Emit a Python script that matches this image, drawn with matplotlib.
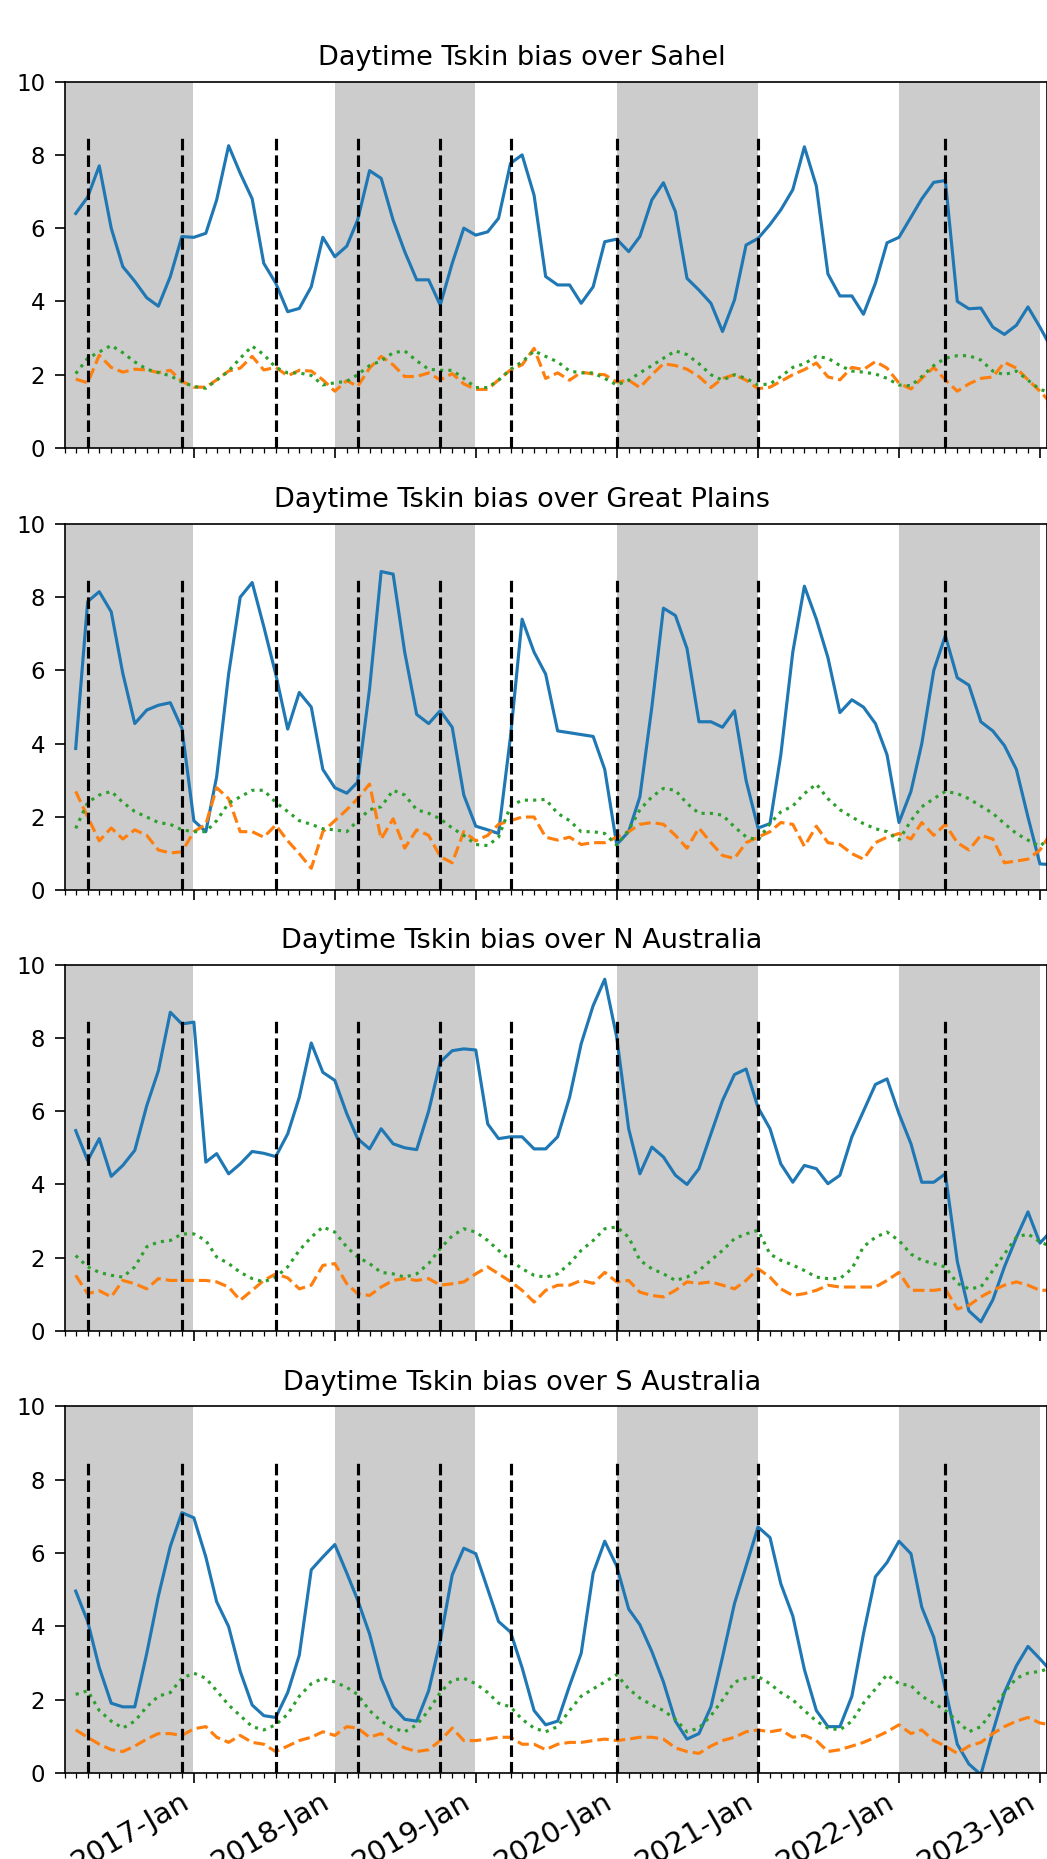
import datetime as dt
import numpy as np
import pandas as pd
import matplotlib
matplotlib.use("Agg")
import matplotlib.pyplot as plt
import matplotlib.dates as mdates

# ---------------- data ----------------
dates = pd.date_range("2016-03-01", periods=84, freq="MS")

regions = ["Sahel", "Great Plains", "N Australia", "S Australia"]

sahel_blue = [6.4, 6.85, 7.7, 6.0, 4.95, 4.55, 4.1, 3.87, 4.68, 5.77, 5.75, 5.86,
              6.77, 8.25, 7.5, 6.8, 5.04, 4.5, 3.72, 3.81, 4.4, 5.75, 5.22, 5.51,
              6.22, 7.57, 7.36, 6.22, 5.36, 4.59, 4.59, 3.9, 5.04, 6.0, 5.81, 5.9,
              6.27, 7.77, 8.0, 6.9, 4.68, 4.45, 4.45, 3.95, 4.4, 5.63, 5.7, 5.36,
              5.77, 6.77, 7.24, 6.45, 4.63, 4.31, 3.95, 3.18, 4.04, 5.54, 5.72, 6.1,
              6.5, 7.05, 8.22, 7.15, 4.75, 4.15, 4.15, 3.65, 4.5, 5.6, 5.75, 6.3,
              6.8, 7.25, 7.3, 4.0, 3.8, 3.82, 3.3, 3.1, 3.35, 3.85, 3.3, 2.7]
sahel_orange = [1.88, 1.78, 2.53, 2.2, 2.07, 2.15, 2.13, 2.06, 2.12, 1.82, 1.66, 1.66,
                1.86, 2.1, 2.18, 2.5, 2.13, 2.2, 1.97, 2.12, 2.1, 1.86, 1.55, 1.84,
                1.68, 2.18, 2.5, 2.27, 1.95, 1.95, 2.05, 1.86, 2.03, 1.75, 1.6, 1.6,
                1.86, 2.13, 2.27, 2.72, 1.9, 2.05, 1.85, 2.07, 2.02, 2.0, 1.8, 1.85,
                1.65, 2.0, 2.3, 2.25, 2.15, 1.95, 1.65, 1.9, 2.0, 1.85, 1.62, 1.66,
                1.82, 2.0, 2.14, 2.32, 1.94, 1.86, 2.2, 2.14, 2.36, 2.18, 1.77, 1.61,
                1.9, 2.2, 1.86, 1.55, 1.75, 1.9, 1.94, 2.34, 2.18, 1.86, 1.55, 1.2]
sahel_green = [2.03, 2.45, 2.62, 2.8, 2.6, 2.35, 2.15, 2.06, 1.97, 1.8, 1.68, 1.63,
               1.85, 2.1, 2.45, 2.78, 2.55, 2.2, 2.05, 2.05, 1.98, 1.72, 1.78, 1.82,
               2.0, 2.25, 2.38, 2.6, 2.65, 2.38, 2.15, 2.12, 2.12, 1.9, 1.65, 1.65,
               1.85, 2.15, 2.35, 2.65, 2.5, 2.35, 2.1, 2.05, 2.05, 1.9, 1.72, 1.85,
               2.05, 2.25, 2.45, 2.65, 2.55, 2.3, 2.0, 1.85, 2.0, 1.9, 1.72, 1.75,
               1.95, 2.2, 2.3, 2.5, 2.45, 2.25, 2.1, 2.07, 2.02, 1.9, 1.72, 1.7,
               1.95, 2.25, 2.45, 2.52, 2.52, 2.4, 2.1, 2.0, 2.1, 1.85, 1.6, 1.5]

plains_blue = [3.87, 7.88, 8.15, 7.6, 5.92, 4.55, 4.92, 5.05, 5.12, 4.42, 1.9, 1.6,
               3.1, 5.9, 8.0, 8.4, 7.2, 5.9, 4.4, 5.4, 5.0, 3.3, 2.8, 2.65,
               2.95, 5.5, 8.7, 8.63, 6.5, 4.8, 4.55, 4.9, 4.45, 2.6, 1.75, 1.65,
               1.55, 4.2, 7.4, 6.5, 5.9, 4.35, 4.3, 4.25, 4.2, 3.3, 1.25, 1.6,
               2.55, 5.0, 7.7, 7.5, 6.6, 4.6, 4.6, 4.45, 4.9, 3.0, 1.7, 1.82,
               3.7, 6.5, 8.3, 7.4, 6.35, 4.85, 5.2, 5.0, 4.55, 3.7, 1.85, 2.7,
               4.0, 6.0, 6.95, 5.8, 5.6, 4.6, 4.35, 3.95, 3.3, 2.0, 0.72, 0.7]
plains_orange = [2.7, 2.0, 1.35, 1.7, 1.4, 1.65, 1.5, 1.1, 1.02, 1.05, 1.6, 1.8,
                 2.8, 2.5, 1.6, 1.6, 1.45, 1.78, 1.35, 1.0, 0.6, 1.6, 1.9, 2.2,
                 2.5, 2.9, 1.4, 1.95, 1.15, 1.65, 1.5, 0.92, 0.75, 1.6, 1.35, 1.5,
                 1.8, 1.9, 2.0, 2.0, 1.45, 1.37, 1.45, 1.25, 1.3, 1.3, 1.45, 1.6,
                 1.8, 1.85, 1.8, 1.5, 1.15, 1.7, 1.3, 0.95, 0.87, 1.3, 1.45, 1.6,
                 1.85, 1.8, 1.2, 1.75, 1.3, 1.25, 1.0, 0.85, 1.3, 1.45, 1.55, 1.4,
                 1.85, 1.5, 1.8, 1.3, 1.1, 1.5, 1.4, 0.75, 0.8, 0.85, 1.1, 1.6]
plains_green = [1.69, 2.4, 2.6, 2.7, 2.4, 2.15, 2.0, 1.85, 1.8, 1.65, 1.6, 1.6,
                1.9, 2.38, 2.55, 2.73, 2.73, 2.4, 2.15, 1.9, 1.8, 1.68, 1.65, 1.6,
                1.9, 2.2, 2.28, 2.73, 2.6, 2.2, 2.1, 1.95, 1.7, 1.5, 1.25, 1.22,
                1.45, 2.3, 2.46, 2.46, 2.48, 2.1, 1.9, 1.6, 1.6, 1.55, 1.23, 1.64,
                2.2, 2.55, 2.78, 2.73, 2.37, 2.1, 2.1, 2.05, 1.73, 1.46, 1.37, 1.82,
                2.14, 2.3, 2.64, 2.9, 2.5, 2.2, 2.0, 1.82, 1.68, 1.6, 1.37, 1.9,
                2.28, 2.5, 2.7, 2.64, 2.5, 2.3, 2.1, 1.82, 1.55, 1.37, 1.2, 1.5]

naus_blue = [5.47, 4.65, 5.25, 4.22, 4.52, 4.93, 6.15, 7.1, 8.7, 8.38, 8.43, 4.61,
             4.84, 4.29, 4.56, 4.9, 4.85, 4.76, 5.38, 6.38, 7.86, 7.06, 6.84, 5.93,
             5.25, 4.97, 5.52, 5.11, 5.0, 4.95, 6.0, 7.34, 7.65, 7.7, 7.67, 5.65,
             5.25, 5.3, 5.3, 4.97, 4.97, 5.3, 6.38, 7.84, 8.88, 9.6, 8.02, 5.52,
             4.29, 5.02, 4.75, 4.25, 4.0, 4.43, 5.38, 6.29, 7.0, 7.15, 6.1, 5.52,
             4.56, 4.06, 4.52, 4.43, 4.02, 4.25, 5.3, 6.0, 6.73, 6.88, 5.93, 5.11,
             4.06, 4.06, 4.29, 1.9, 0.55, 0.25, 0.85, 1.75, 2.55, 3.25, 2.4, 2.75]
naus_orange = [1.52, 1.02, 1.1, 0.93, 1.38, 1.29, 1.15, 1.43, 1.38, 1.38, 1.38, 1.38,
               1.34, 1.2, 0.84, 1.11, 1.38, 1.56, 1.45, 1.15, 1.25, 1.79, 1.84, 1.29,
               1.02, 0.97, 1.2, 1.38, 1.43, 1.38, 1.43, 1.25, 1.29, 1.34, 1.56, 1.75,
               1.56, 1.35, 1.11, 0.79, 1.11, 1.25, 1.25, 1.38, 1.3, 1.6, 1.34, 1.38,
               1.06, 0.97, 0.93, 1.11, 1.34, 1.3, 1.34, 1.25, 1.15, 1.38, 1.7, 1.47,
               1.15, 0.97, 1.02, 1.11, 1.25, 1.2, 1.2, 1.2, 1.2, 1.38, 1.6, 1.11,
               1.11, 1.11, 1.15, 0.6, 0.7, 0.93, 1.11, 1.25, 1.34, 1.25, 1.11, 1.11]
naus_green = [2.06, 1.75, 1.6, 1.52, 1.47, 1.75, 2.3, 2.43, 2.47, 2.65, 2.65, 2.47,
              2.02, 1.84, 1.6, 1.43, 1.34, 1.47, 1.75, 2.2, 2.56, 2.84, 2.7, 2.29,
              2.02, 1.84, 1.6, 1.56, 1.47, 1.56, 1.84, 2.25, 2.6, 2.79, 2.7, 2.47,
              2.2, 1.93, 1.7, 1.52, 1.47, 1.56, 1.84, 2.2, 2.47, 2.79, 2.84, 2.56,
              1.93, 1.7, 1.56, 1.38, 1.47, 1.65, 1.93, 2.2, 2.52, 2.65, 2.75, 2.1,
              1.93, 1.8, 1.65, 1.47, 1.43, 1.43, 1.7, 2.3, 2.56, 2.7, 2.47, 2.1,
              1.93, 1.84, 1.75, 1.3, 1.15, 1.2, 1.65, 2.1, 2.56, 2.65, 2.43, 2.3]

saus_blue = [4.96, 4.13, 2.87, 1.9, 1.8, 1.8, 3.26, 4.82, 6.18, 7.1, 6.96, 5.89,
             4.67, 3.99, 2.77, 1.85, 1.56, 1.51, 2.19, 3.21, 5.54, 5.89, 6.23, 5.45,
             4.72, 3.79, 2.58, 1.8, 1.46, 1.41, 2.24, 3.6, 5.4, 6.13, 5.98, 5.01,
             4.13, 3.84, 2.87, 1.7, 1.31, 1.41, 2.38, 3.26, 5.45, 6.32, 5.64, 4.47,
             4.04, 3.31, 2.48, 1.41, 0.92, 1.07, 1.8, 3.16, 4.62, 5.64, 6.71, 6.42,
             5.16, 4.28, 2.82, 1.7, 1.26, 1.26, 2.09, 3.79, 5.35, 5.74, 6.32, 5.98,
             4.52, 3.7, 2.29, 0.78, 0.24, -0.05, 1.12, 2.19, 2.92, 3.45, 3.11, 2.75]
saus_orange = [1.17, 0.97, 0.78, 0.63, 0.58, 0.73, 0.92, 1.07, 1.07, 1.02, 1.2, 1.26,
               0.97, 0.83, 1.02, 0.83, 0.78, 0.58, 0.73, 0.88, 0.97, 1.12, 1.02, 1.26,
               1.22, 0.97, 1.07, 0.83, 0.68, 0.58, 0.63, 0.88, 1.22, 0.88, 0.88, 0.92,
               0.97, 0.97, 0.78, 0.78, 0.63, 0.78, 0.83, 0.83, 0.88, 0.92, 0.88, 0.92,
               0.97, 0.97, 0.92, 0.68, 0.58, 0.53, 0.73, 0.88, 0.97, 1.12, 1.17, 1.12,
               1.17, 0.97, 1.02, 0.88, 0.58, 0.63, 0.73, 0.83, 0.97, 1.12, 1.31, 1.07,
               1.17, 0.88, 0.73, 0.53, 0.73, 0.83, 1.07, 1.26, 1.41, 1.51, 1.36, 1.3]
saus_green = [2.14, 2.24, 1.7, 1.41, 1.22, 1.41, 1.8, 2.09, 2.19, 2.58, 2.72, 2.58,
              2.24, 1.85, 1.56, 1.26, 1.17, 1.31, 1.6, 2.09, 2.43, 2.58, 2.48, 2.33,
              2.14, 1.7, 1.41, 1.22, 1.12, 1.31, 1.7, 2.19, 2.53, 2.58, 2.43, 2.19,
              1.9, 1.8, 1.46, 1.22, 1.12, 1.26, 1.7, 2.09, 2.29, 2.48, 2.68, 2.29,
              2.04, 1.85, 1.7, 1.46, 1.12, 1.22, 1.56, 1.99, 2.48, 2.58, 2.63, 2.43,
              2.19, 1.99, 1.7, 1.41, 1.22, 1.17, 1.41, 1.9, 2.29, 2.68, 2.43, 2.38,
              2.09, 1.9, 1.7, 1.41, 1.12, 1.26, 1.7, 2.19, 2.58, 2.72, 2.77, 2.87]

event_dates = ["2016-04-01", "2016-12-01", "2017-08-01", "2018-03-01", "2018-10-01",
               "2019-04-01", "2020-01-01", "2021-01-01", "2022-05-01"]
shaded_years = [2016, 2018, 2020, 2022]

series = [
    (sahel_blue, sahel_orange, sahel_green),
    (plains_blue, plains_orange, plains_green),
    (naus_blue, naus_orange, naus_green),
    (saus_blue, saus_orange, saus_green),
]

# ---------------- figure ----------------
W, H, DPI = 1047, 1859, 150
fig = plt.figure(figsize=(W / DPI, H / DPI), dpi=DPI)

left_px, right_px = 64.5, 1046.5
bottoms_px = [448.0, 890.3, 1331.0, 1772.8]   # y of the 0 line, from top
height_px = 366.4
xlim = (dt.datetime(2016, 2, 1), dt.datetime(2023, 1, 18))
title_center_px = 522.0

axes = []
for i, (region, (b, o, g)) in enumerate(zip(regions, series)):
    rect = [left_px / W, 1 - bottoms_px[i] / H,
            (right_px - left_px) / W, height_px / H]
    ax = fig.add_axes(rect, sharex=axes[0] if axes else None)
    axes.append(ax)
    for yr in shaded_years:
        start = dt.datetime(2015, 12, 1) if yr == 2016 else dt.datetime(yr, 1, 1)
        ax.axvspan(start, dt.datetime(yr, 12, 31), color="#cccccc", lw=0, zorder=0)
    ax.plot(dates, b, color="tab:blue", lw=1.5)
    ax.plot(dates, o, color="tab:orange", lw=1.5, ls="--")
    ax.plot(dates, g, color="tab:green", lw=1.5, ls=":")
    ax.vlines(pd.to_datetime(event_dates), 0, 8.5, colors="k", linestyles="--", lw=1.5)
    ax.set_ylim(0, 10)
    ax.set_xlim(*xlim)
    tx = (title_center_px - left_px) / (right_px - left_px)
    ax.set_title(f"Daytime Tskin bias over {region}", fontsize=13, x=tx, pad=8)
    ax.xaxis.set_major_locator(mdates.YearLocator())
    ax.xaxis.set_major_formatter(mdates.DateFormatter("%Y-%b"))
    ax.xaxis.set_minor_locator(mdates.MonthLocator())
    ax.tick_params(axis="both", which="major", length=4.8, pad=4.5)
    ax.tick_params(axis="both", which="minor", length=2.5)
    ax.tick_params(axis="y", labelsize=11)
    ax.tick_params(axis="x", labelsize=14, pad=2)
    if i < 3:
        ax.tick_params(axis="x", labelbottom=False)

for lab in axes[-1].get_xticklabels():
    lab.set_rotation(30)
    lab.set_ha("right")

fig.savefig("out.png", dpi=DPI)
